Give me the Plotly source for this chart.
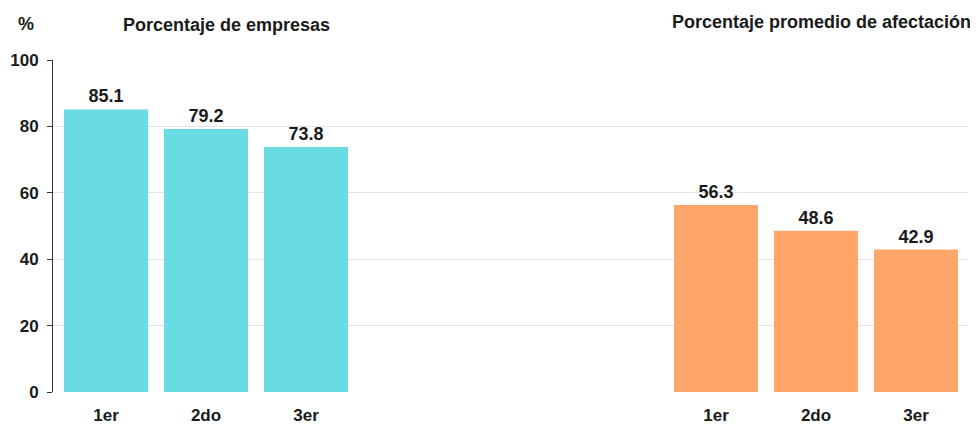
import plotly.graph_objects as go

categories = ["1er", "2do", "3er"]
empresas = [85.1, 79.2, 73.8]
afectacion = [56.3, 48.6, 42.9]
pos_empresas = [0, 1, 2]
pos_afectacion = [6.1, 7.1, 8.1]
y_ticks = [0, 20, 40, 60, 80, 100]

font_family = "Liberation Sans, Arial, sans-serif"

# page body has an 8px margin, so the figure is slightly smaller and shifted
W, H = 970, 419
ML, MR, MT, MB = 45, 10, 52, 35
OFF = 8

fig = go.Figure()
fig.add_trace(go.Bar(
    x=pos_empresas, y=empresas, width=0.84,
    marker=dict(color="#68DCE2", line=dict(width=0)),
    text=[f"{v:.1f}" for v in empresas], textposition="outside",
    textfont=dict(family=font_family, size=18, color="#1a1a1a"),
    texttemplate="<b>%{text}</b>", cliponaxis=False,
))
fig.add_trace(go.Bar(
    x=pos_afectacion, y=afectacion, width=0.84,
    marker=dict(color="#FFA76B", line=dict(width=0)),
    text=[f"{v:.1f}" for v in afectacion], textposition="outside",
    textfont=dict(family=font_family, size=18, color="#1a1a1a"),
    texttemplate="<b>%{text}</b>", cliponaxis=False,
))

fig.update_layout(
    width=W, height=H,
    margin=dict(l=ML, r=MR, t=MT, b=MB, autoexpand=False),
    paper_bgcolor="white", plot_bgcolor="white",
    showlegend=False,
    font=dict(family=font_family, size=17, color="#1a1a1a"),
    xaxis=dict(
        range=[-0.53, 8.62],
        tickvals=pos_empresas + pos_afectacion,
        ticktext=[f"<b>{c}</b>" for c in categories] * 2,
        ticks="", showgrid=False, zeroline=False, showline=False,
        ticklabelstandoff=11, automargin=False,
        tickfont=dict(size=17, color="#1a1a1a"),
    ),
    yaxis=dict(
        range=[0, 100], tickvals=y_ticks,
        ticktext=[f"<b>{t}</b>" for t in y_ticks],
        showgrid=True, gridcolor="#E3E3E3", gridwidth=1,
        zeroline=False, showline=True, linecolor="#333333", linewidth=1,
        ticks="outside", ticklen=5, tickcolor="#333333", automargin=False,
        ticklabelstandoff=5,
        tickfont=dict(size=17, color="#1a1a1a"),
    ),
)

# titles placed by window pixel position, converted to paper coordinates
titles = [("<b>%</b>", 26, 24), ("<b>Porcentaje de empresas</b>", 226, 25),
          ("<b>Porcentaje promedio de afectación</b>", 821, 22)]
left = OFF + ML
bottom = OFF + H - MB
pw = W - ML - MR
ph = H - MT - MB
for txt, px, py in titles:
    fig.add_annotation(text=txt, x=(px - left) / pw, y=(bottom - py) / ph,
                       xref="paper", yref="paper", showarrow=False,
                       xanchor="center", yanchor="middle", font=dict(size=18))

fig.write_html("out.html")
